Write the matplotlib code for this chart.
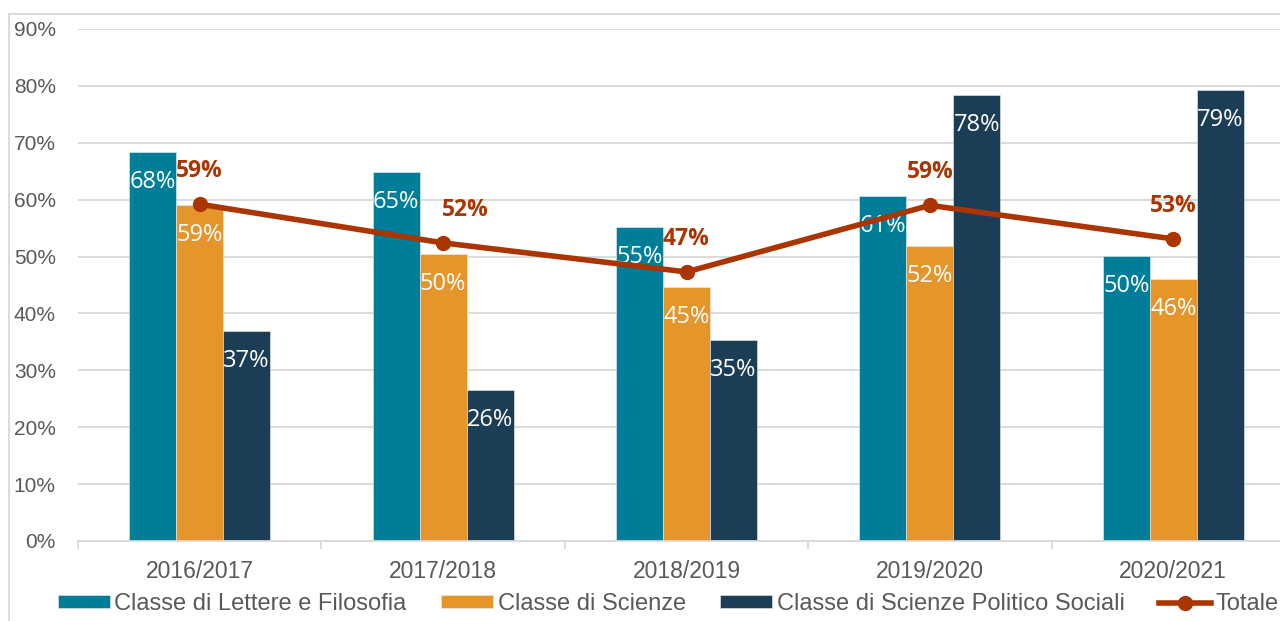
import numpy as np
import matplotlib.pyplot as plt
from matplotlib.lines import Line2D

# Data
years = ['2016/2017', '2017/2018', '2018/2019', '2019/2020', '2020/2021']
lettere = [0.684, 0.649, 0.552, 0.606, 0.501]
scienze = [0.591, 0.504, 0.447, 0.518, 0.460]
politico = [0.369, 0.265, 0.353, 0.784, 0.793]
totale = [0.592, 0.524, 0.473, 0.590, 0.531]

series_names = ['Classe di Lettere e Filosofia', 'Classe di Scienze',
                'Classe di Scienze Politico Sociali']
colors = ['#007E99', '#E6952A', '#1B3D55']
line_color = '#AA3500'
gray = '#595959'

fig = plt.figure(figsize=(12.8, 6.21), dpi=100)
ax = fig.add_axes([78 / 1280, 80 / 621, (1295 - 78) / 1280, 512 / 621])

x = np.arange(len(years))
w = 0.193
handles = []
for i, (vals, name, c) in enumerate(zip([lettere, scienze, politico], series_names, colors)):
    pos = x + (i - 1) * w
    b = ax.bar(pos, vals, width=w, color=c, label=name, zorder=2,
               edgecolor='#E8EEF2', linewidth=0.4)
    handles.append(b)
    for px, v in zip(pos, vals):
        ax.annotate(f'{v * 100:.0f}%', (px, v), xytext=(0, -21.5),
                    textcoords='offset points', ha='center', va='center',
                    color='white', fontsize=17, family='Open Sans', zorder=4)

ln, = ax.plot(x, totale, color=line_color, lw=4, marker='o', ms=10,
              label='Totale', zorder=5)
handles.append(ln)
label_dx = [0, 16, 0, 0, 0]
for px, v, dx in zip(x, totale, label_dx):
    ax.annotate(f'{v * 100:.0f}%', (px, v), xytext=(dx, 24),
                textcoords='offset points', ha='center', va='center',
                color=line_color, fontsize=16.5, fontweight='bold',
                family='Open Sans', zorder=6)

ax.set_xlim(-0.5, 4.5)
ax.set_ylim(0, 0.9)
ax.set_yticks(np.arange(0, 0.91, 0.1))
ax.set_yticklabels([f'{t}%' for t in range(0, 91, 10)])
ax.yaxis.grid(True, color='#D9D9D9', lw=1.3, zorder=0)
ax.set_axisbelow(True)
ax.tick_params(axis='y', length=0, pad=16, labelsize=15, labelcolor=gray)

ax.set_xticks(x)
ax.set_xticklabels(years)
ax.tick_params(axis='x', length=0, pad=14, labelsize=16.5, labelcolor=gray)
ax.set_xticks(np.arange(-0.5, 4.6, 1), minor=True)
ax.tick_params(axis='x', which='minor', length=6, color='#D9D9D9', width=1.3)

for s in ['top', 'right', 'left']:
    ax.spines[s].set_visible(False)
ax.spines['bottom'].set_color('#D9D9D9')
ax.spines['bottom'].set_linewidth(1.3)

for lab in ax.get_xticklabels() + ax.get_yticklabels():
    lab.set_family('Liberation Sans')

leg = fig.legend(handles=handles, loc='center', bbox_to_anchor=(0.522, (621 - 604) / 621),
                 ncol=4, frameon=False, handlelength=2.2,
                 handleheight=0.45, handletextpad=0.2, columnspacing=1.45,
                 prop={'family': 'Liberation Sans', 'size': 17})
for t in leg.get_texts():
    t.set_color(gray)

# light border around the chart area
fig.add_artist(Line2D([9 / 1280, 9 / 1280], [0, 1 - 14 / 621],
                      color='#D9D9D9', lw=1.3, transform=fig.transFigure))
fig.add_artist(Line2D([9 / 1280, 1], [1 - 14 / 621, 1 - 14 / 621],
                      color='#D9D9D9', lw=1.3, transform=fig.transFigure))

fig.savefig('out.png', dpi=100)
